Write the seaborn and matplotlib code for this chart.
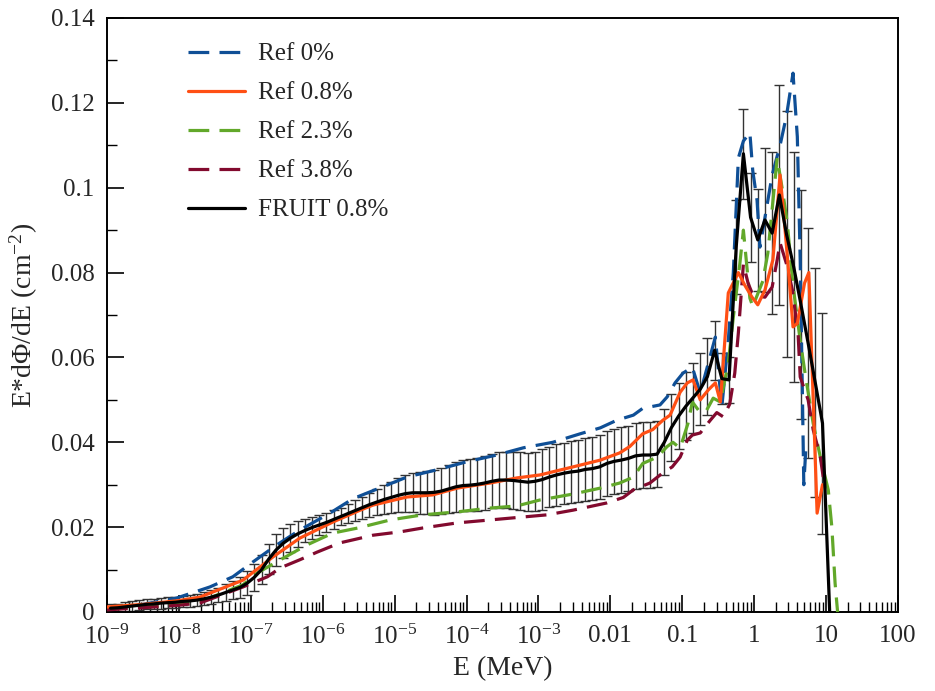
import numpy as np
import pandas as pd
import matplotlib
matplotlib.use("Agg")
import matplotlib.pyplot as plt
import seaborn as sns
from matplotlib.ticker import (FixedLocator, FixedFormatter, LogLocator,
                               NullFormatter, MultipleLocator, FuncFormatter)

# ---------------- data (log10 of E in MeV, E*dPhi/dE in cm^-2) ----------------
ref0_logE = [-9.0, -8.5, -8.03, -7.57, -7.25, -6.97, -6.64, -6.32, -5.90, -5.58,
             -4.83, -4.37, -4.0, -3.58, -3.21, -2.80, -2.42, -2.14, -1.91, -1.68,
             -1.55, -1.31, -1.21, -1.10, -0.99, -0.86, -0.75, -0.54, -0.45, -0.36,
             -0.29, -0.22, -0.15, -0.06, -0.02, 0.04, 0.08, 0.15, 0.25, 0.36,
             0.45, 0.54, 0.60, 0.64, 0.67, 0.69, 0.72]
ref0_val = [0.0008, 0.0018, 0.0033, 0.0059, 0.0083, 0.0118, 0.0158, 0.0193, 0.0233, 0.0267,
            0.0318, 0.0337, 0.0354, 0.0370, 0.0387, 0.0400, 0.0420, 0.0434, 0.0452, 0.0464,
            0.0480, 0.0488, 0.0507, 0.0540, 0.0563, 0.0577, 0.0516, 0.0648, 0.0483, 0.0640,
            0.0800, 0.1070, 0.1110, 0.1130, 0.1040, 0.0970, 0.0860, 0.0930, 0.1030, 0.1100,
            0.1170, 0.1270, 0.1120, 0.0830, 0.0520, 0.0300, 0.0390]

ref08_logE = [-9.0, -8.5, -8.0, -7.71, -7.11, -6.69, -6.32, -5.86, -5.48, -5.30,
              -4.83, -4.47, -4.13, -3.67, -3.30, -2.98, -2.52, -2.14, -1.87, -1.73,
              -1.55, -1.41, -1.27, -1.17, -1.03, -0.93, -0.85, -0.75, -0.64, -0.54,
              -0.47, -0.36, -0.22, -0.13, -0.03, 0.05, 0.15, 0.26, 0.36, 0.43,
              0.47, 0.54, 0.60, 0.70, 0.76, 0.875, 0.95]
ref08_val = [0.0012, 0.0018, 0.0027, 0.0035, 0.0075, 0.0130, 0.0174, 0.0212, 0.0240, 0.0252,
             0.0271, 0.0276, 0.0292, 0.0304, 0.0316, 0.0323, 0.0342, 0.0358, 0.0375, 0.0390,
             0.0420, 0.0430, 0.0452, 0.0464, 0.0518, 0.0540, 0.0547, 0.0500, 0.0523, 0.0540,
             0.0495, 0.0752, 0.0800, 0.0770, 0.0742, 0.0724, 0.0759, 0.0830, 0.1030, 0.0900,
             0.0820, 0.0672, 0.0680, 0.0775, 0.0800, 0.0233, 0.0300]

ref23_logE = [-9.0, -8.5, -8.0, -7.71, -7.11, -6.91, -6.59, -6.22, -5.86, -5.51,
              -5.06, -4.61, -4.13, -3.67, -3.30, -2.98, -2.52, -2.14, -1.87, -1.68,
              -1.55, -1.35, -1.21, -1.13, -1.03, -0.92, -0.86, -0.75, -0.66, -0.57,
              -0.47, -0.36, -0.29, -0.20, -0.15, -0.06, -0.02, 0.12, 0.19, 0.32,
              0.40, 0.46, 0.54, 0.64, 0.71, 0.82, 0.92, 1.03, 1.08, 1.125, 1.16]
ref23_val = [0.0006, 0.0012, 0.0018, 0.0024, 0.0064, 0.0092, 0.0123, 0.0158, 0.0186, 0.0198,
             0.0217, 0.0229, 0.0236, 0.0245, 0.0250, 0.0264, 0.0278, 0.0292, 0.0304, 0.0318,
             0.0350, 0.0365, 0.0390, 0.0400, 0.0386, 0.0445, 0.0495, 0.0470, 0.0476, 0.0504,
             0.0495, 0.0587, 0.0695, 0.0820, 0.0900, 0.0740, 0.0720, 0.0780, 0.0846, 0.1070,
             0.0987, 0.0917, 0.0770, 0.0640, 0.0560, 0.0445, 0.0365, 0.0288, 0.0200, 0.0068, 0.0]

ref38_logE = [-9.0, -8.5, -8.0, -7.71, -7.11, -6.77, -6.59, -6.32, -6.08, -5.76,
              -5.58, -5.30, -4.92, -4.61, -4.13, -3.67, -3.21, -2.88, -2.52, -2.05,
              -1.82, -1.68, -1.45, -1.27, -1.14, -1.03, -0.93, -0.86, -0.75, -0.61,
              -0.52, -0.43, -0.34, -0.27, -0.22, -0.15, -0.085, -0.03, 0.05, 0.15,
              0.25, 0.32, 0.36, 0.45, 0.53, 0.61, 0.64, 0.75, 0.82, 0.92, 0.96]
ref38_val = [0.0005, 0.0010, 0.0016, 0.0021, 0.0059, 0.0083, 0.0104, 0.0123, 0.0141, 0.0163,
             0.0170, 0.0181, 0.0189, 0.0198, 0.0210, 0.0217, 0.0224, 0.0229, 0.0240, 0.0257,
             0.0270, 0.0288, 0.0304, 0.0328, 0.0342, 0.0365, 0.0405, 0.0417, 0.0422, 0.0452,
             0.0470, 0.0460, 0.0490, 0.0563, 0.0658, 0.0820, 0.0775, 0.0752, 0.0745, 0.0742,
             0.0766, 0.0830, 0.0870, 0.0820, 0.0760, 0.0658, 0.0554, 0.0500, 0.0430, 0.0365, 0.0318]

fruit_logE = [-8.95, -8.85, -8.75, -8.65, -8.55, -8.45, -8.35, -8.25, -8.15, -8.05,
              -7.95, -7.85, -7.75, -7.65, -7.55, -7.45, -7.35, -7.25, -7.15, -7.05,
              -6.95, -6.85, -6.75, -6.65, -6.55, -6.45, -6.35, -6.25, -6.15, -6.05,
              -5.95, -5.85, -5.75, -5.65, -5.55, -5.45, -5.35, -5.25, -5.15, -5.05,
              -4.95, -4.85, -4.75, -4.65, -4.55, -4.45, -4.35, -4.25, -4.15, -4.05,
              -3.95, -3.85, -3.75, -3.65, -3.55, -3.45, -3.35, -3.25, -3.15, -3.05,
              -2.95, -2.85, -2.75, -2.65, -2.55, -2.45, -2.35, -2.25, -2.15, -2.05,
              -1.95, -1.85, -1.75, -1.65, -1.55, -1.45, -1.35, -1.25, -1.15, -1.05,
              -0.95, -0.85, -0.75, -0.65, -0.55, -0.45, -0.35, -0.25, -0.15, -0.05,
              0.05, 0.15, 0.25, 0.35, 0.45, 0.55, 0.65, 0.75, 0.85, 0.95, 1.05]
fruit_val = [0.0009, 0.0010, 0.0012, 0.0014, 0.0016, 0.0018, 0.0019, 0.0021, 0.0022, 0.0023,
             0.0025, 0.0026, 0.0028, 0.0031, 0.0035, 0.0040, 0.0046, 0.0052, 0.0058, 0.0068,
             0.0082, 0.0100, 0.0125, 0.0146, 0.0162, 0.0174, 0.0184, 0.0192, 0.0199, 0.0205,
             0.0211, 0.0218, 0.0225, 0.0232, 0.0239, 0.0246, 0.0253, 0.0259, 0.0265, 0.0270,
             0.0275, 0.0279, 0.0281, 0.0281, 0.0281, 0.0282, 0.0285, 0.0290, 0.0295, 0.0298,
             0.0299, 0.0301, 0.0304, 0.0308, 0.0311, 0.0311, 0.0310, 0.0308, 0.0306, 0.0308,
             0.0312, 0.0318, 0.0323, 0.0327, 0.0330, 0.0332, 0.0336, 0.0338, 0.0342, 0.0350,
             0.0355, 0.0358, 0.0362, 0.0368, 0.0370, 0.0370, 0.0372, 0.0400, 0.0435, 0.0462,
             0.0485, 0.0505, 0.0525, 0.0555, 0.0617, 0.0550, 0.0547, 0.0860, 0.1080, 0.0930,
             0.0877, 0.0924, 0.0893, 0.0983, 0.0890, 0.0813, 0.0725, 0.0634, 0.0540, 0.0445, 0.0]
fruit_err = [0.0010, 0.0010, 0.0011, 0.0011, 0.0012, 0.0012, 0.0012, 0.0013, 0.0013, 0.0013,
             0.0013, 0.0014, 0.0014, 0.0015, 0.0016, 0.0017, 0.0019, 0.0021, 0.0024, 0.0028,
             0.0032, 0.0034, 0.0036, 0.0037, 0.0035, 0.0033, 0.0031, 0.0028, 0.0026, 0.0024,
             0.0023, 0.0022, 0.0021, 0.0022, 0.0024, 0.0026, 0.0028, 0.0031, 0.0034, 0.0037,
             0.0040, 0.0043, 0.0046, 0.0049, 0.0051, 0.0053, 0.0055, 0.0057, 0.0059, 0.0060,
             0.0061, 0.0062, 0.0063, 0.0064, 0.0065, 0.0066, 0.0067, 0.0068, 0.0069, 0.0070,
             0.0071, 0.0071, 0.0072, 0.0072, 0.0073, 0.0073, 0.0074, 0.0075, 0.0076, 0.0077,
             0.0077, 0.0077, 0.0077, 0.0077, 0.0077, 0.0077, 0.0077, 0.0078, 0.0078, 0.0078,
             0.0080, 0.0082, 0.0085, 0.0090, 0.0070, 0.0060, 0.0055, 0.0110, 0.0106, 0.0105,
             0.0120, 0.0170, 0.0190, 0.0260, 0.0290, 0.0270, 0.0270, 0.0270, 0.0270, 0.0260, 0.0]

x_tick_labels = ["$10^{-9}$", "$10^{-8}$", "$10^{-7}$", "$10^{-6}$", "$10^{-5}$",
                 "$10^{-4}$", "$10^{-3}$", "0.01", "0.1", "1", "10", "100"]

# ---------------- style ----------------
sns.set_style("ticks")
plt.rcParams["font.family"] = ["Liberation Serif", "DejaVu Serif"]
plt.rcParams["mathtext.fontset"] = "custom"
plt.rcParams["mathtext.rm"] = "Liberation Serif"
plt.rcParams["mathtext.it"] = "Liberation Serif:italic"
plt.rcParams["mathtext.bf"] = "Liberation Serif:bold"

fig = plt.figure(figsize=(9.35, 6.91), dpi=100)
ax = fig.add_axes([107 / 935, 79 / 691, 791 / 935, 594 / 691])
ax.set_xscale("log")

# error bars of FRUIT (behind lines)
ax.errorbar(10.0 ** np.array(fruit_logE), fruit_val, yerr=fruit_err, fmt="none",
            ecolor="#333333", elinewidth=1.0, capsize=3.5, capthick=1.0, zorder=1)

dash = (0, (6.5, 3.2))
series = [
    ("Ref 0%", ref0_logE, ref0_val, "#0f4f96", dash, 3),
    ("Ref 0.8%", ref08_logE, ref08_val, "#ff4f14", "-", 4),
    ("Ref 2.3%", ref23_logE, ref23_val, "#62a82a", dash, 3),
    ("Ref 3.8%", ref38_logE, ref38_val, "#820a2e", dash, 3),
    ("FRUIT 0.8%", fruit_logE, fruit_val, "#000000", "-", 6),
]
for name, lx, vals, col, ls, z in series:
    df = pd.DataFrame({"E": 10.0 ** np.array(lx), "v": vals})
    sns.lineplot(data=df, x="E", y="v", ax=ax, color=col, linewidth=2.3,
                 linestyle=ls, label=name, zorder=z, sort=False)

ax.set_xlim(1e-9, 100)
ax.set_ylim(0, 0.14)

ax.xaxis.set_major_locator(FixedLocator([10.0 ** k for k in range(-9, 3)]))
ax.xaxis.set_major_formatter(FixedFormatter(x_tick_labels))
ax.xaxis.set_minor_locator(LogLocator(base=10, subs=np.arange(2, 10), numticks=200))
ax.xaxis.set_minor_formatter(NullFormatter())
ax.yaxis.set_major_locator(MultipleLocator(0.02))
ax.yaxis.set_minor_locator(MultipleLocator(0.01))
ax.yaxis.set_major_formatter(FuncFormatter(lambda v, p: f"{v:g}"))

ax.tick_params(which="both", direction="in", top=False, right=False, color="black")
ax.tick_params(which="major", length=12, width=1.2, labelsize=18)
ax.tick_params(which="minor", length=7, width=1.0)
ax.tick_params(axis="y", which="major", pad=9)
ax.tick_params(axis="x", which="major", pad=9)

for sp in ax.spines.values():
    sp.set_visible(True)
    sp.set_linewidth(1.4)
    sp.set_color("black")

ax.set_xlabel("E (MeV)", fontsize=20, labelpad=5)
ax.set_ylabel("E*d\u03a6/dE (cm$^{-2}$)", fontsize=20, labelpad=8)

leg = ax.legend(loc="upper left", bbox_to_anchor=(0.102, 0.958), frameon=False,
                fontsize=18, handlelength=2.3, labelspacing=0.66, borderaxespad=0,
                borderpad=0, handletextpad=0.52)

fig.savefig("out.png", dpi=100)
